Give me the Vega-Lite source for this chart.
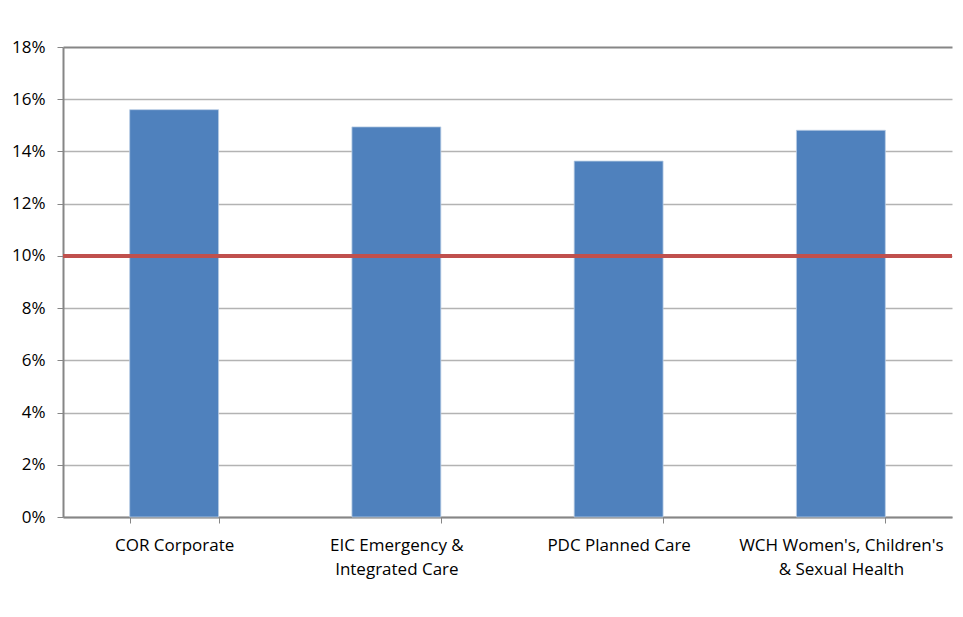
{
  "$schema": "https://vega.github.io/schema/vega-lite/v6.json",
  "autosize": "none",
  "width": 889,
  "height": 470,
  "padding": {"left": 63, "top": 47, "right": 11, "bottom": 100},
  "background": "white",
  "config": {
    "view": {"stroke": null},
    "font": "Open Sans",
    "axis": {"labelFont": "Open Sans", "labelColor": "#000000"}
  },
  "data": {
    "values": [
      {"directorate": "COR Corporate", "rate": 0.156},
      {"directorate": "EIC Emergency & Integrated Care", "rate": 0.1494},
      {"directorate": "PDC Planned Care", "rate": 0.1363},
      {"directorate": "WCH Women's, Children's & Sexual Health", "rate": 0.1481}
    ]
  },
  "layer": [
    {
      "mark": {"type": "bar", "color": "#4F81BD", "stroke": "#B9CDE5", "strokeWidth": 0.8},
      "encoding": {
        "x": {
          "field": "directorate",
          "type": "nominal",
          "sort": null,
          "title": null,
          "scale": {"paddingInner": 0.6, "paddingOuter": 0.3},
          "axis": {
            "labelAngle": 0,
            "labelFontSize": 17,
            "labelLimit": 0,
            "labelPadding": 14,
            "labelLineHeight": 24,
            "labelBaseline": "top",
            "labelExpr": "datum.value == 'EIC Emergency & Integrated Care' ? ['EIC Emergency &', 'Integrated Care'] : datum.value == \"WCH Women's, Children's & Sexual Health\" ? [\"WCH Women's, Children's\", '& Sexual Health'] : datum.value",
            "domainColor": "#868686",
            "domainWidth": 2,
            "tickColor": "#868686",
            "tickWidth": 1,
            "tickSize": 6,
            "tickBand": "extent",
            "grid": false
          }
        },
        "y": {
          "field": "rate",
          "type": "quantitative",
          "title": null,
          "scale": {"domain": [0, 0.18], "nice": false},
          "axis": {
            "values": [0, 0.02, 0.04, 0.06, 0.08, 0.1, 0.12, 0.14, 0.16, 0.18],
            "format": ".0%",
            "labelFontSize": 17,
            "labelPadding": 12,
            "domainColor": "#868686",
            "domainWidth": 2,
            "tickColor": "#868686",
            "tickSize": 6,
            "grid": true,
            "gridColor": {"condition": {"test": "datum.value >= 0.18", "value": "#868686"}, "value": "#b3b3b3"},
            "gridWidth": {"condition": {"test": "datum.value >= 0.18", "value": 2}, "value": 1.3}
          }
        }
      }
    },
    {
      "mark": {"type": "rule", "color": "#C0504D", "strokeWidth": 4},
      "encoding": {"y": {"datum": 0.1}}
    }
  ]
}
